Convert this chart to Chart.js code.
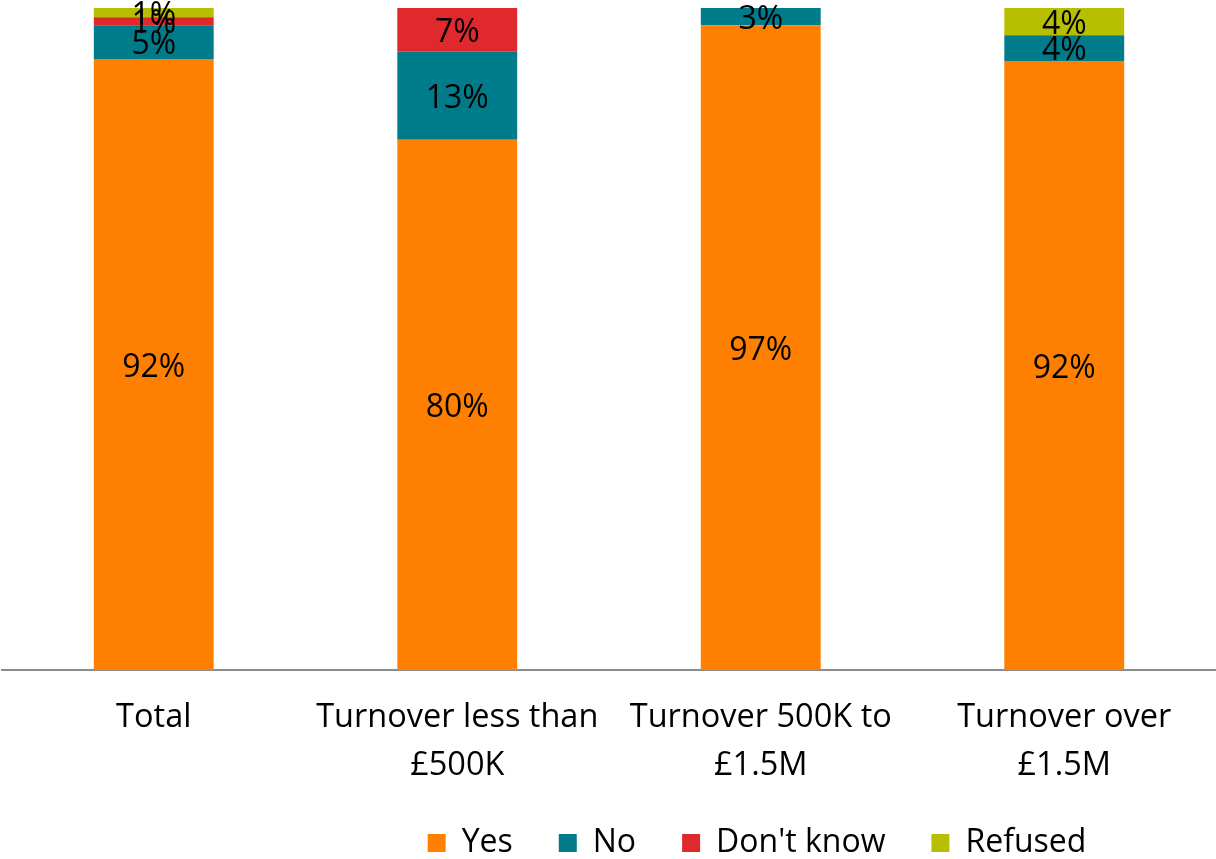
<!DOCTYPE html>
<html>
<head>
<meta charset="utf-8">
<script src="https://cdn.jsdelivr.net/npm/chart.js@4.4.0/dist/chart.umd.min.js"></script>
<style>
  html, body { margin: 0; padding: 0; background: #fff; }
  #wrap { width: 1216px; height: 859px; position: relative; }
</style>
</head>
<body>
<div id="wrap"><canvas id="chart"></canvas></div>
<script>
// categories and series (percent of respondents)
const categories = ['Total', ['Turnover less than', '£500K'], ['Turnover 500K to', '£1.5M'], ['Turnover over', '£1.5M']];
const yesValues = [92.3, 80.1, 97.4, 92.0];
const noValues = [5.1, 13.3, 2.6, 3.9];
const dontKnowValues = [1.2, 6.6, 0, 0];
const refusedValues = [1.4, 0, 0, 4.1];

const FONT = '"Open Sans", "Noto Sans", sans-serif';

// draws the % figure in the middle of each segment
const segmentLabels = {
    id: 'segmentLabels',
    afterLayout(chart) {
        // x axis box was shortened in afterFit, let its labels run below it
        chart.scales.x.bottom = chart.height;
        // legend sits a bit lower and right of centre in the original
        chart.legend.top += 10;
        chart.legend.bottom += 10;
        chart.legend.left += 148;
        chart.legend.right += 148;
    },
    afterDatasetsDraw(chart) {
        const ctx = chart.ctx;
        ctx.save();
        ctx.font = '32px ' + FONT;
        ctx.fillStyle = '#000';
        ctx.textAlign = 'center';
        ctx.textBaseline = 'middle';
        chart.data.datasets.forEach((ds, i) => {
            const meta = chart.getDatasetMeta(i);
            meta.data.forEach((bar, j) => {
                const v = ds.data[j];
                if (!v) return;
                ctx.fillText(Math.round(v) + '%', bar.x, (bar.y + bar.base) / 2 + 3);
            });
        });
        ctx.restore();
    }
};

new Chart(document.getElementById('chart'), {
    type: 'bar',
    data: {
        labels: categories,
        datasets: [
            { label: 'Yes', data: yesValues, backgroundColor: '#ff8000' },
            { label: 'No', data: noValues, backgroundColor: '#007b8a' },
            { label: "Don't know", data: dontKnowValues, backgroundColor: '#e0292d' },
            { label: 'Refused', data: refusedValues, backgroundColor: '#b8bf00' }
        ]
    },
    options: {
        responsive: true,
        maintainAspectRatio: false,
        animation: false,
        layout: { padding: { top: 8, left: 2, right: 0, bottom: 0 } },
        datasets: { bar: { categoryPercentage: 1, barPercentage: 0.395 } },
        plugins: {
            legend: {
                position: 'bottom',
                labels: {
                    font: { family: FONT, size: 32 },
                    color: '#000',
                    boxWidth: 18,
                    boxHeight: 18,
                    padding: 46
                }
            },
            tooltip: { enabled: false }
        },
        scales: {
            x: {
                stacked: true,
                grid: { display: false, drawTicks: false },
                border: { display: true, color: '#8c8c8c', width: 2 },
                ticks: { color: '#000', font: { family: FONT, size: 32.5, lineHeight: 1.48 }, padding: 24, maxRotation: 0 },
                afterFit(scale) { scale.height = 101; }
            },
            y: {
                stacked: true,
                min: 0,
                max: 100,
                display: false
            }
        }
    },
    plugins: [segmentLabels]
});
</script>
</body>
</html>
